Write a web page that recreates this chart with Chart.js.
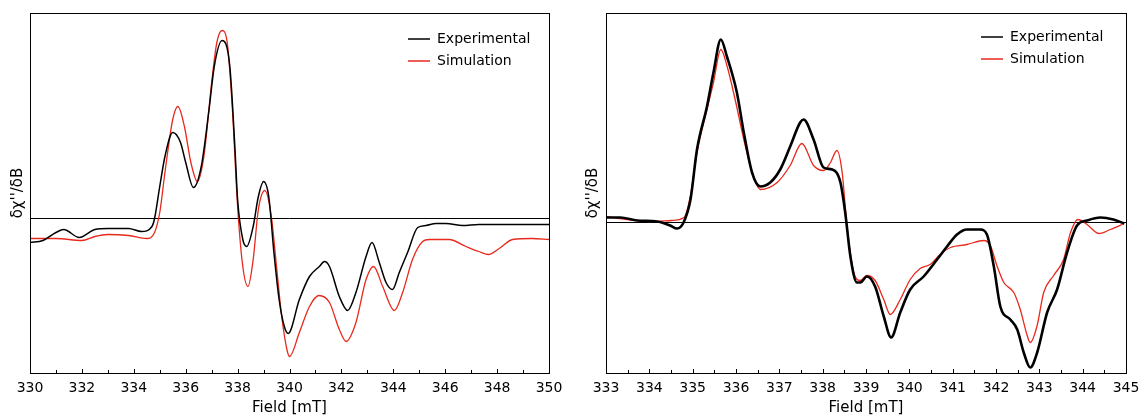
<!DOCTYPE html>
<html>
<head>
<meta charset="utf-8">
<script src="https://cdn.jsdelivr.net/npm/chart.js@4.4.0/dist/chart.umd.min.js"></script>
<style>
  body { margin: 0; background: #fff; }
  .panel { position: absolute; top: 0; height: 418px; }
</style>
</head>
<body>
<div class="panel" style="left:0;width:562px"><canvas id="leftChart" width="562" height="418"></canvas></div>
<div class="panel" style="left:575px;width:564px"><canvas id="rightChart" width="564" height="418"></canvas></div>
<script>
// Left panel: field [mT] and signal (arbitrary units)
const leftExpField = [330, 330.5, 331, 331.3, 331.9, 332.5, 333, 333.8, 334.3, 334.7, 334.8, 335.0, 335.2, 335.5, 335.8, 336.0, 336.3, 336.6, 336.9, 337.1, 337.4, 337.7, 337.9, 338.0, 338.2, 338.35, 338.6, 338.8, 339.0, 339.2, 339.4, 339.6, 339.8, 339.95, 340.38, 340.77, 341.15, 341.35, 341.54, 341.92, 342.24, 342.56, 342.95, 343.18, 343.46, 343.72, 343.97, 344.23, 344.55, 344.94, 345.26, 345.64, 346.03, 346.67, 347.3, 348.6, 350];
const leftExpSignal = [-24, -22, -14, -11, -19, -11, -10, -10, -13, -8, 0, 32, 62, 86, 76, 56, 31, 52, 109, 152, 178, 152, 69, 19, -21, -28, -8, 22, 37, 22, -34, -81, -108, -115, -81, -58, -48, -43, -48, -78, -92, -74, -38, -24, -44, -64, -71, -54, -34, -9, -7, -5, -5, -7, -6, -6, -6];

const leftSimField = [330, 331, 332, 332.5, 333, 333.8, 334.5, 334.8, 335.0, 335.2, 335.5, 335.7, 335.95, 336.2, 336.45, 336.7, 337.0, 337.2, 337.4, 337.6, 337.8, 338.0, 338.2, 338.4, 338.6, 338.8, 339.05, 339.3, 339.5, 339.7, 339.9, 340.0, 340.38, 340.77, 341.13, 341.54, 341.92, 342.18, 342.56, 342.95, 343.24, 343.59, 344.04, 344.36, 344.74, 345.13, 345.38, 346.15, 346.8, 347.3, 347.67, 348.08, 348.6, 349.35, 350];
const leftSimSignal = [-20, -20, -22, -18, -16, -17, -20, -14, 6, 46, 99, 112, 92, 56, 37, 62, 136, 176, 188, 176, 109, 12, -48, -68, -41, 9, 28, 2, -48, -98, -131, -138, -114, -88, -77, -84, -111, -123, -104, -61, -48, -68, -92, -74, -41, -23, -21, -21, -28, -33, -36, -30, -21, -20, -21];

// Right panel
const rightExpField = [333.0, 333.33, 333.72, 334.18, 334.48, 334.64, 334.79, 334.95, 335.1, 335.33, 335.48, 335.65, 335.79, 336.02, 336.18, 336.37, 336.56, 336.79, 337.02, 337.25, 337.48, 337.56, 337.79, 338.02, 338.22, 338.41, 338.52, 338.64, 338.79, 338.87, 339.02, 339.21, 339.41, 339.58, 339.79, 340.02, 340.33, 340.64, 340.87, 341.1, 341.33, 341.64, 341.79, 341.95, 342.1, 342.33, 342.49, 342.64, 342.79, 342.95, 343.18, 343.41, 343.64, 343.87, 344.1, 344.41, 344.71, 344.96];
const rightExpSignal = [5, 5, 2, 1, -3, -6, 0, 23, 73, 116, 150, 183, 166, 130, 90, 50, 36, 40, 53, 76, 100, 103, 83, 55, 53, 40, 10, -34, -60, -60, -54, -64, -94, -115, -90, -67, -54, -37, -24, -12, -7, -7, -12, -44, -84, -97, -107, -130, -145, -130, -90, -67, -30, -3, 2, 5, 3, -1];

const rightSimField = [333.0, 333.5, 334.0, 334.5, 334.8, 334.95, 335.1, 335.33, 335.48, 335.65, 335.79, 335.98, 336.18, 336.41, 336.56, 336.95, 337.25, 337.52, 337.79, 338.02, 338.18, 338.33, 338.45, 338.56, 338.72, 338.87, 339.02, 339.21, 339.41, 339.56, 339.79, 340.02, 340.25, 340.48, 340.71, 340.95, 341.33, 341.72, 341.87, 342.02, 342.18, 342.41, 342.56, 342.72, 342.79, 342.95, 343.1, 343.33, 343.56, 343.72, 343.89, 344.1, 344.38, 344.64, 344.96];
const rightSimSignal = [6, 3, 1, 2, 5, 27, 70, 113, 140, 173, 157, 123, 83, 45, 33, 40, 57, 79, 57, 52, 60, 72, 50, -3, -50, -58, -53, -58, -77, -92, -77, -57, -46, -42, -32, -25, -22, -18, -23, -43, -60, -70, -87, -113, -120, -103, -70, -53, -37, -10, 3, -2, -11, -7, -1];

const seriesNames = ['Experimental', 'Simulation'];
const seriesColors = ['#000000', '#e8291c'];

const font = "'DejaVu Sans', sans-serif";
Chart.defaults.font.family = font;
Chart.defaults.font.size = 14;
Chart.defaults.color = '#000';

function pts(xs, ys) {
    return xs.map((x, i) => ({x: x, y: ys[i]}));
}

// frame, inward tick marks and legend
const framePlugin = {
    id: 'frame',
    beforeDatasetsDraw(chart) {
        const ctx = chart.ctx;
        const a = chart.chartArea;
        const xs = chart.scales.x;
        ctx.save();
        ctx.strokeStyle = '#000';
        ctx.lineWidth = 1;
        xs.ticks.forEach(t => {
            const px = Math.round(xs.getPixelForValue(t.value)) + 0.5;
            const len = t.label !== '' ? 4 : 3;
            ctx.beginPath();
            ctx.moveTo(px, a.bottom);
            ctx.lineTo(px, a.bottom - len);
            ctx.stroke();
        });
        ctx.restore();
    },
    afterDraw(chart, args, opts) {
        const ctx = chart.ctx;
        const a = chart.chartArea;
        ctx.save();
        ctx.strokeStyle = '#000';
        ctx.lineWidth = 1;
        ctx.strokeRect(Math.round(a.left) + 0.5, Math.round(a.top) + 0.5, Math.round(a.right - a.left), Math.round(a.bottom - a.top));
        // legend
        ctx.font = '14px ' + font;
        ctx.textBaseline = 'middle';
        seriesNames.forEach((name, i) => {
            const y = opts.legendTop + i * 22;
            const x0 = a.right - opts.legendRight;
            ctx.strokeStyle = seriesColors[i];
            ctx.lineWidth = 1.5;
            ctx.beginPath();
            ctx.moveTo(x0, y);
            ctx.lineTo(x0 + 22, y);
            ctx.stroke();
            ctx.fillStyle = '#000';
            ctx.fillText(name, x0 + 29, y);
        });
        ctx.restore();
    }
};

function makeChart(id, cfg) {
    return new Chart(document.getElementById(id), {
        type: 'line',
        data: {
            datasets: [
                {
                    label: seriesNames[0],
                    data: pts(cfg.expField, cfg.expSignal),
                    borderColor: seriesColors[0],
                    borderWidth: cfg.expWidth,
                    pointRadius: 0,
                    cubicInterpolationMode: 'monotone',
                    order: 1
                },
                {
                    label: seriesNames[1],
                    data: pts(cfg.simField, cfg.simSignal),
                    borderColor: seriesColors[1],
                    borderWidth: 1.3,
                    pointRadius: 0,
                    cubicInterpolationMode: 'monotone',
                    order: 2
                },
                {
                    label: 'zero',
                    data: [{x: cfg.xMin, y: 0}, {x: cfg.xMax, y: 0}],
                    borderColor: '#000',
                    borderWidth: 1,
                    pointRadius: 0,
                    order: 3
                }
            ]
        },
        options: {
            responsive: false,
            animation: false,
            layout: { padding: { top: 13, right: cfg.padRight, bottom: 1, left: 0 } },
            scales: {
                x: {
                    type: 'linear',
                    min: cfg.xMin,
                    max: cfg.xMax,
                    grid: { display: false, drawTicks: false },
                    border: { display: false },
                    ticks: {
                        stepSize: cfg.step,
                        autoSkip: false,
                        maxRotation: 0,
                        padding: 7,
                        callback: v => (Math.abs(v % cfg.labelEvery) < 1e-6 ? String(v) : '')
                    },
                    title: { display: true, text: 'Field [mT]', font: { size: 15 }, padding: { top: 0, bottom: 0 } },
                    afterFit: s => { s.height = 44; s.paddingLeft = 0; s.paddingRight = 0; }
                },
                y: {
                    min: cfg.yMin,
                    max: cfg.yMax,
                    grid: { display: false, drawTicks: false },
                    border: { display: false },
                    ticks: { display: false },
                    title: { display: true, text: "δχ''/δB", font: { size: 15 }, padding: { top: 9, bottom: 0 } },
                    afterFit: s => { s.width = cfg.yWidth; }
                }
            },
            plugins: {
                legend: { display: false },
                tooltip: { enabled: false },
                frame: { legendTop: cfg.legendTop, legendRight: cfg.legendRight }
            }
        },
        plugins: [framePlugin]
    });
}

makeChart('leftChart', {
    expField: leftExpField, expSignal: leftExpSignal,
    simField: leftSimField, simSignal: leftSimSignal,
    xMin: 330, xMax: 350, step: 1, labelEvery: 2,
    yMin: -154.5, yMax: 205.5, yWidth: 30, padRight: 13,
    expWidth: 1.5, legendTop: 39, legendRight: 141
});

makeChart('rightChart', {
    expField: rightExpField, expSignal: rightExpSignal,
    simField: rightSimField, simSignal: rightSimSignal,
    xMin: 333, xMax: 345, step: 0.5, labelEvery: 1,
    yMin: -150.5, yMax: 209.5, yWidth: 31, padRight: 13,
    expWidth: 2.6, legendTop: 37, legendRight: 145
});
</script>
</body>
</html>
